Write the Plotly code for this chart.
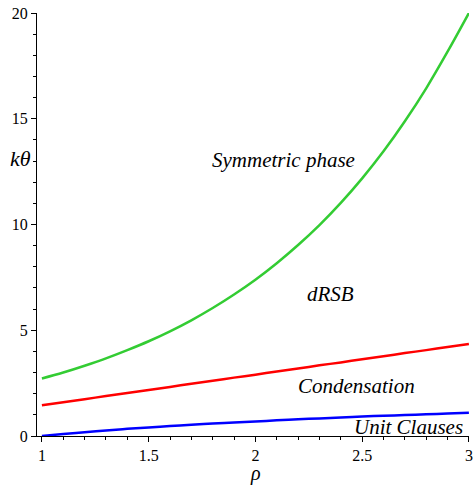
import plotly.graph_objects as go

rho = [1.0, 1.1, 1.2, 1.3, 1.4, 1.5, 1.6, 1.7, 1.8, 1.9, 2.0,
       2.1, 2.2, 2.3, 2.4, 2.5, 2.6, 2.7, 2.8, 2.9, 3.0]
symmetric = [2.72, 3.00, 3.32, 3.67, 4.06, 4.48, 4.95, 5.47, 6.05, 6.69, 7.39,
             8.17, 9.03, 9.97, 11.02, 12.18, 13.46, 14.88, 16.44, 18.17, 20.0]
condensation = [1.45, 1.60, 1.74, 1.89, 2.03, 2.18, 2.32, 2.47, 2.61, 2.76, 2.90,
                3.05, 3.19, 3.34, 3.48, 3.63, 3.77, 3.92, 4.06, 4.21, 4.35]
unit_clauses = [0.0, 0.095, 0.18, 0.26, 0.34, 0.405, 0.47, 0.53, 0.59, 0.64, 0.69,
                0.74, 0.79, 0.83, 0.88, 0.92, 0.96, 0.99, 1.03, 1.06, 1.10]

x_ticks = [1, 1.5, 2, 2.5, 3]
x_ticktext = ["1", "1.5", "2", "2.5", "3"]
y_ticks = [0, 5, 10, 15, 20]
y_ticktext = ["0", "5", "10", "15", "20"]

region_labels = ["Symmetric phase", "dRSB", "Condensation", "Unit Clauses"]
region_x = [2.13, 2.35, 2.475, 2.715]
region_y = [13.05, 6.7, 2.36, 0.42]

font = "Liberation Serif, DejaVu Serif, serif"

fig = go.Figure()
for ys, col in [(symmetric, "#33cc33"), (condensation, "#ff0000"), (unit_clauses, "#0000ff")]:
    fig.add_trace(go.Scatter(x=rho, y=ys, mode="lines",
                             line=dict(color=col, width=2.5, shape="spline"),
                             showlegend=False, hoverinfo="skip", cliponaxis=False))

for t, xx, yy in zip(region_labels, region_x, region_y):
    fig.add_annotation(x=xx, y=yy, text="<i>" + t + "</i>", showarrow=False,
                       font=dict(family=font, size=21, color="black"))

fig.add_annotation(xref="paper", yref="y", x=-0.039, y=13.1, xanchor="center",
                   text="<i>kθ</i>", showarrow=False,
                   font=dict(family=font, size=22, color="black"))
fig.add_annotation(xref="x", yref="paper", x=2.0, y=-0.088, yanchor="middle",
                   text="<i>ρ</i>", showarrow=False,
                   font=dict(family=font, size=20, color="black"))

fig.update_xaxes(range=[0.977, 3.0005], tickvals=x_ticks, ticktext=x_ticktext,
                 automargin=False,
                 showline=True, linecolor="black", linewidth=1, showgrid=False,
                 zeroline=False, ticks="outside", ticklen=5, tickcolor="black",
                 minor=dict(dtick=0.1, tick0=1, ticks="outside", ticklen=3, tickcolor="black", showgrid=False),
                 tickfont=dict(family=font, size=16, color="black"))
fig.update_yaxes(range=[0, 20], tickvals=y_ticks, ticktext=y_ticktext,
                 automargin=False,
                 showline=True, linecolor="black", linewidth=1, showgrid=False,
                 zeroline=False, ticks="outside", ticklen=5, tickcolor="black",
                 minor=dict(dtick=1, tick0=0, ticks="outside", ticklen=3, tickcolor="black", showgrid=False),
                 tickfont=dict(family=font, size=16, color="black"))

fig.update_layout(width=473, height=486, plot_bgcolor="white", paper_bgcolor="white",
                  font=dict(family=font),
                  margin=dict(l=37, r=4, t=13, b=50, autoexpand=False))

fig.write_html("out.html", config={"displayModeBar": False},
               post_script="document.body.style.margin='0';document.body.style.padding='0';document.body.style.overflow='hidden';")
